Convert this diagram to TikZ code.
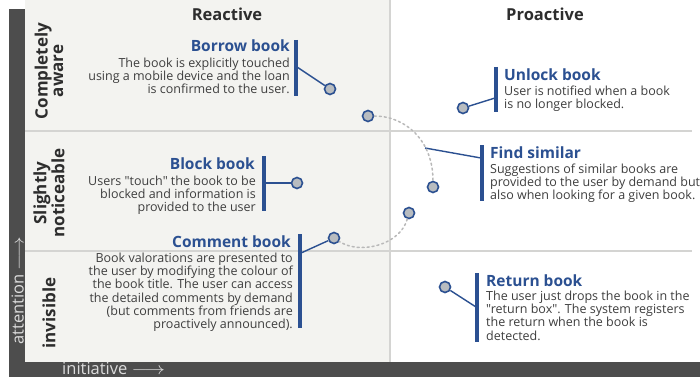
\documentclass[tikz,border=0pt]{standalone}
\usepackage{fontspec}
\setmainfont{Open Sans}[Ligatures=TeXOff]
\definecolor{accent}{RGB}{43,80,145}
\definecolor{hubfill}{RGB}{184,188,192}
\definecolor{bodytext}{RGB}{62,62,62}
\definecolor{headtext}{RGB}{45,45,45}
\definecolor{panel}{RGB}{243,243,240}
\definecolor{rule}{RGB}{212,212,210}
\definecolor{axisbar}{RGB}{77,77,77}
\definecolor{axistext}{RGB}{220,220,220}
\definecolor{trailgrey}{RGB}{185,185,185}
\newcommand{\axisarrow}{\scalebox{1.2}[1]{$\longrightarrow$}}
\begin{document}
\begin{tikzpicture}[x=1pt,y=-1pt,
  head/.style={font=\fontsize{16.5}{18}\selectfont\bfseries, text=headtext, inner sep=0},
  side/.style={font=\fontsize{17}{15.5}\selectfont\bfseries, text=headtext, inner sep=0, align=center, rotate=90},
  axislabel/.style={font=\fontsize{16.5}{18}\selectfont, text=axistext, inner sep=0},
  title/.style={font=\fontsize{15.5}{18}\selectfont\bfseries, text=accent, inner sep=0},
  body/.style={font=\fontsize{12.5}{13.25}\selectfont, text=bodytext, inner sep=0},
  bar/.style={draw=accent, line width=3.5pt},
  hub/.style={circle, draw=accent, fill=hubfill, line width=1.6pt, minimum size=11pt, inner sep=0},
  link/.style={draw=accent, line width=1.4pt},
  trail/.style={draw=trailgrey, line width=1.5pt, dash pattern=on 2pt off 3pt, line cap=round}]

% canvas and panels
\useasboundingbox (0,0) rectangle (700,377);
\clip (0,0) rectangle (700,377);
\fill[white] (0,0) rectangle (700,377);
\fill[panel] (25,0) rectangle (390,362);
\draw[rule, line width=1.2pt] (25,131) -- (692,131);
\draw[rule, line width=1.2pt] (25,251) -- (692,251);
\draw[rule, line width=1.2pt] (390,0) -- (390,362);

% axes
\fill[axisbar] (9,9) rectangle (25,377);
\fill[axisbar] (9,362) rectangle (700,377);
\node[axislabel, rotate=90, anchor=base west] (attention) at (23.5,345) {attention \axisarrow};
\node[axislabel, anchor=base west] (initiative) at (62,374) {initiative \axisarrow};

% column and row headings
\node[head, anchor=base] (reactive) at (227,21) {Reactive};
\node[head, anchor=base] (proactive) at (545,21) {Proactive};
\node[side] (aware) at (49,71) {Completely\\aware};
\node[side] (noticeable) at (49,193) {Slightly\\noticeable};
\node[side] (invisible) at (49,313) {invisible};

% Borrow book
\node[title, anchor=base east] (borrowT) at (290,52) {Borrow book};
\node[body, anchor=north east, align=right] (borrowB) at (290,57.6)
  {The book is explicitly touched\\using a mobile device and the loan\\is confirmed to the user.};
\draw[bar] (296,40) -- (296,96);
\coordinate (borrowJ) at (297,67);
\node[hub] (borrowH) at (330,89) {};
\draw[link] (borrowJ) -- (borrowH);

% Block book
\node[title, anchor=base east] (blockT) at (255,169) {Block book};
\node[body, anchor=north east, align=right] (blockB) at (256,175.6)
  {Users "touch" the book to be\\blocked and information is\\provided to the user};
\draw[bar] (264,156) -- (264,211);
\coordinate (blockJ) at (265,183);
\node[hub] (blockH) at (297,183) {};
\draw[link] (blockJ) -- (blockH);

% Comment book
\node[title, anchor=base east] (commentT) at (291,247) {Comment book};
\node[body, anchor=north east, align=right] (commentB) at (293,252.6)
  {Book valorations are presented to\\the user by modifying the colour of\\the book title. The user can access\\the detailed comments by demand\\(but comments from friends are\\proactively announced).};
\draw[bar] (300,234) -- (300,328);
\coordinate (commentJ) at (301,253);
\node[hub] (commentH) at (334,238) {};
\draw[link] (commentJ) -- (commentH);

% Unlock book
\node[title, anchor=base west] (unlockT) at (504,81) {Unlock book};
\node[body, anchor=north west, align=left] (unlockB) at (504,85.6)
  {User is notified when a book\\is no longer blocked.};
\draw[bar] (496,67) -- (496,112);
\coordinate (unlockJ) at (495,98);
\node[hub] (unlockH) at (463,108) {};
\draw[link] (unlockH) -- (unlockJ);

% Find similar
\node[title, anchor=base west] (similarT) at (490,158) {Find similar};
\node[body, anchor=north west, align=left] (similarB) at (490,163.6)
  {Suggestions of similar books are\\provided to the user by demand but\\also when looking for a given book.};
\draw[bar] (482,145) -- (482,201);
\coordinate (similarJ) at (481,158);
\coordinate (similarA) at (425,148);
\draw[link] (similarA) -- (similarJ);

% Return book
\node[title, anchor=base west] (returnT) at (486,286) {Return book};
\node[body, anchor=north west, align=left] (returnB) at (486,290.6)
  {The user just drops the book in the\\"return box". The system registers\\the return when the book is\\detected.};
\draw[bar] (477,273) -- (477,342);
\coordinate (returnJ) at (476,307);
\node[hub] (returnH) at (445,287) {};
\draw[link] (returnH) -- (returnJ);

% dotted trail between the intermediate states
\node[hub] (trailA) at (368,116) {};
\node[hub] (trailB) at (433,187) {};
\node[hub] (trailC) at (409,213) {};
\draw[trail] (trailA) .. controls (405,116) and (433,140) .. (trailB);
\draw[trail] (trailC) .. controls (400,245) and (360,255) .. (commentH);
\end{tikzpicture}
\end{document}
